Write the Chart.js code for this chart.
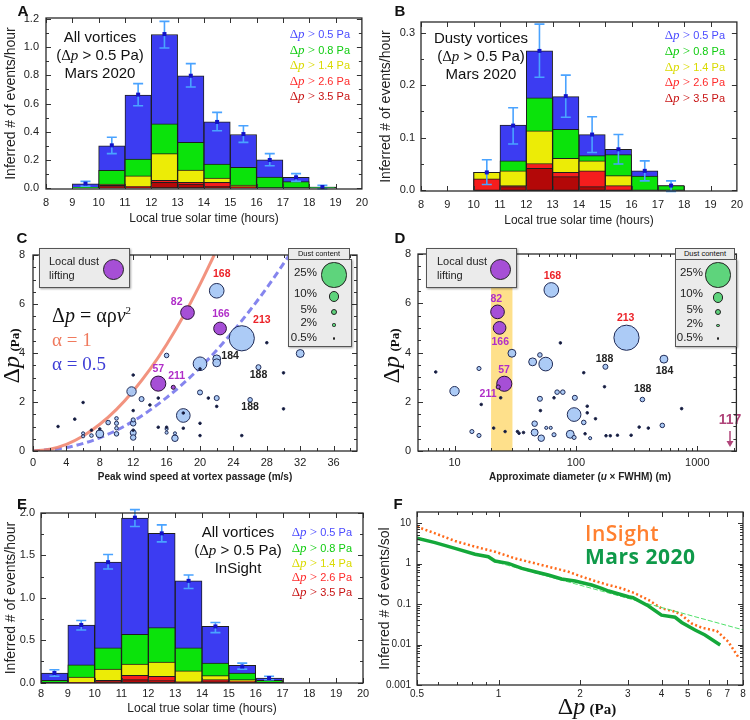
<!DOCTYPE html>
<html>
<head>
<meta charset="utf-8">
<title>Vortex statistics</title>
<script src="https://cdn.jsdelivr.net/npm/chart.js@4.4.1/dist/chart.umd.min.js"></script>
<style>
  html, body { margin: 0; padding: 0; background: #fff; }
  #fig { position: relative; width: 750px; height: 720px; overflow: hidden;
         font-family: 'Liberation Sans', Arial, sans-serif; color: #111; }
  #fig canvas { position: absolute; }
  .lbl { position: absolute; white-space: nowrap; line-height: 1; }
  .panel { font-weight: bold; font-size: 15px; }
  .note { font-size: 15px; text-align: center; line-height: 18px; color: #111; }
  .leg { font-size: 11px; }
  .dp { font-family: 'Liberation Serif', 'Times New Roman', serif; }
  .box { position: absolute; background: #ebebeb; border: 1px solid #555;
         box-shadow: 1px 1px 2px rgba(0,0,0,.35); box-sizing: border-box; }
  .circ { position: absolute; border-radius: 50%; border: 1px solid #222; box-sizing: border-box; }
</style>
</head>
<body>
<div id="fig">
  <canvas id="chartA"></canvas>
  <canvas id="chartB"></canvas>
  <canvas id="chartC"></canvas>
  <canvas id="chartD"></canvas>
  <canvas id="chartE"></canvas>
  <canvas id="chartF"></canvas>
</div>
<script>
// ---- data ----
const hourTicks = [8, 9, 10, 11, 12, 13, 14, 15, 16, 17, 18, 19, 20];
const thresholds = [0.5, 0.8, 1.4, 2.6, 3.5];

// A: all vortices, Mars 2020 (events/hour with dp above each threshold)
const aBins = [9, 10, 11, 12, 13, 14, 15, 16, 17, 18];
const aGt05 = [0.030, 0.300, 0.660, 1.090, 0.797, 0.469, 0.380, 0.200, 0.076, 0.007];
const aGt08 = [0.005, 0.125, 0.205, 0.455, 0.325, 0.170, 0.147, 0.078, 0.045, 0.007];
const aGt14 = [0, 0.028, 0.087, 0.244, 0.128, 0.071, 0.020, 0, 0, 0];
const aGt26 = [0, 0.019, 0.012, 0.054, 0.040, 0.040, 0.010, 0, 0, 0];
const aGt35 = [0, 0.010, 0.005, 0.040, 0.028, 0.012, 0.005, 0, 0, 0];
const aMean = [0.031, 0.303, 0.663, 1.093, 0.797, 0.469, 0.383, 0.199, 0.076, 0.007];
const aLow  = [0.012, 0.244, 0.584, 0.994, 0.717, 0.407, 0.324, 0.158, 0.047, -0.005];
const aHigh = [0.047, 0.360, 0.741, 1.183, 0.883, 0.537, 0.442, 0.244, 0.102, 0.019];
const aYTicks = [0, 0.2, 0.4, 0.6, 0.8, 1.0, 1.2];

// B: dusty vortices, Mars 2020
const bBins = [10, 11, 12, 13, 14, 15, 16, 17];
const bGt05 = [0.034, 0.124, 0.265, 0.178, 0.106, 0.078, 0.037, 0.009];
const bGt08 = [0.034, 0.056, 0.176, 0.116, 0.066, 0.068, 0.027, 0.009];
const bGt14 = [0.034, 0.037, 0.113, 0.061, 0.056, 0.028, 0, 0];
const bGt26 = [0.022, 0.009, 0.051, 0.034, 0.037, 0.009, 0, 0];
const bGt35 = [0, 0.007, 0.042, 0.026, 0.007, 0, 0, 0];
const bMean = [0.034, 0.123, 0.265, 0.179, 0.106, 0.078, 0.037, 0.009];
const bLow  = [0.011, 0.088, 0.215, 0.139, 0.072, 0.050, 0.018, -0.002];
const bHigh = [0.058, 0.157, 0.316, 0.219, 0.140, 0.106, 0.056, 0.018];
const bYTicks = [0, 0.1, 0.2, 0.3];

// E: all vortices, InSight
const eBins = [8, 9, 10, 11, 12, 13, 14, 15, 16];
const eGt05 = [0.114, 0.680, 1.420, 1.940, 1.760, 1.200, 0.663, 0.204, 0.055];
const eGt08 = [0.027, 0.210, 0.410, 0.570, 0.650, 0.410, 0.230, 0.114, 0.027];
const eGt14 = [0, 0.067, 0.160, 0.220, 0.243, 0.140, 0.082, 0.035, 0];
const eGt26 = [0, 0.005, 0.027, 0.086, 0.075, 0.012, 0.035, 0.020, 0];
const eGt35 = [0, 0, 0.012, 0.035, 0.024, 0, 0.020, 0, 0];
const eMean = [0.114, 0.680, 1.420, 1.945, 1.760, 1.200, 0.663, 0.190, 0.055];
const eLow  = [0.075, 0.620, 1.340, 1.840, 1.660, 1.110, 0.590, 0.160, 0.035];
const eHigh = [0.153, 0.733, 1.510, 2.040, 1.860, 1.270, 0.710, 0.230, 0.075];
const eYTicks = [0, 0.5, 1.0, 1.5, 2.0];

// C: dp vs peak wind speed; dust content in %
const cSpeed = [22.0, 25.0, 22.0, 22.0, 20.0, 32.0, 27.0, 26.0, 16.0, 11.8, 13.0, 20.0, 22.0, 18.0, 17.0,
                12.0, 12.0, 12.0, 12.0, 10.0, 10.0, 10.0, 10.0, 9.0, 8.0, 7.0, 6.0, 6.0, 16.0, 16.0, 17.0,
                3.0, 5.0, 6.0, 12.0, 12.0, 15.0, 14.0, 15.0, 16.0, 18.0, 20.0, 20.0, 22.0, 21.0, 28.0,
                30.0, 30.0, 25.0, 20.0, 12.0, 8.0, 7.0, 18.0];
const cDp    = [6.54, 4.60, 3.76, 3.60, 3.56, 3.98, 3.42, 2.09, 3.90, 2.43, 2.12, 2.39, 2.16, 1.45, 0.52,
                1.13, 1.27, 0.74, 0.55, 1.33, 1.13, 0.93, 0.70, 1.16, 0.70, 0.63, 0.72, 0.60, 0.90, 0.75, 0.72,
                1.00, 1.30, 1.98, 3.10, 1.65, 2.16, 1.88, 0.97, 0.97, 0.93, 1.13, 0.63, 1.82, 2.16, 4.42,
                3.19, 1.72, 0.63, 3.35, 0.85, 0.90, 0.85, 1.55];
const cDust  = [14, 25, 7, 7, 13, 7, 4, 3.5, 3.5, 8.5, 4, 4, 4, 13, 5.5,
                4.5, 3, 5, 4.5, 2.5, 3, 2.5, 3.5, 3.5, 7, 2.5, 2, 2, 2, 2, 2,
                0.5, 0.5, 0.5, 0.5, 0.5, 0.5, 0.5, 0.5, 0.5, 0.5, 0.5, 0.5, 0.5, 0.5, 0.5,
                0.5, 0.5, 0.5, 0.5, 0.5, 0.5, 0.5, 0.5];
const cLiftSpeed = [18.5, 22.4, 15.0, 16.8];
const cLiftDp    = [5.65, 5.00, 2.75, 2.60];
const cLiftDust  = [13, 12, 14.5, 3];
const cLabelText = ['168', '82', '166', '213', '184', '188', '188', '57', '211'];
const cLabelX    = [22.6, 17.2, 22.5, 27.4, 23.6, 27.0, 26.0, 15.0, 17.2];
const cLabelY    = [7.22, 6.06, 5.58, 5.33, 3.87, 3.08, 1.78, 3.35, 3.05];
const cLabelKind = ['red', 'purple', 'purple', 'red', 'black', 'black', 'black', 'purple', 'purple'];
const alpha1Speed  = [0, 2, 4, 6, 8, 10, 12, 14, 16, 18, 20, 21.7];
const alpha1Dp     = [0, 0.07, 0.27, 0.61, 1.09, 1.70, 2.45, 3.33, 4.35, 5.50, 6.80, 8.00];
const alpha05Speed = [0, 4, 8, 12, 16, 20, 24, 28, 30.7];
const alpha05Dp    = [0, 0.14, 0.54, 1.22, 2.18, 3.40, 4.90, 6.66, 8.00];
const cXTicks = [0, 4, 8, 12, 16, 20, 24, 28, 32, 36];
const dpTicks = [0, 2, 4, 6, 8];

// D: dp vs approximate diameter (m)
const dDiam = [62.7, 261, 531, 44, 56.4, 29.7, 175, 353, 50.5, 10, 50.5, 70, 78, 98, 96.6,
               45.7, 45.7, 51.8, 89.8, 66, 96.6, 15.9, 13.9, 15.9, 116, 515, 62, 57, 131,
               7.0, 16.6, 21, 24, 26.1, 33, 34, 37, 51, 66, 74.5, 116, 124, 124, 145, 119,
               172, 177, 192, 220, 285, 332, 395, 743];
const dDp   = [6.54, 4.60, 3.73, 3.62, 3.53, 3.97, 3.42, 2.09, 3.90, 2.43, 2.12, 2.39, 2.39, 2.16, 1.48,
               1.11, 0.75, 0.52, 0.68, 0.66, 0.55, 3.35, 0.79, 0.63, 1.16, 1.04, 0.94, 0.94, 0.52,
               3.21, 1.89, 0.93, 2.16, 0.79, 0.79, 0.72, 0.75, 1.64, 2.16, 4.39, 3.18, 1.82, 1.55, 1.31, 0.70,
               2.61, 0.62, 0.62, 0.64, 0.64, 0.97, 0.93, 1.72];
const dDust = [14, 25, 7, 7, 13, 7, 4, 3.5, 3.5, 8.5, 4, 3.5, 3.5, 4, 13,
               4.5, 6, 5.5, 7, 3, 3, 3, 3, 3, 3.5, 3.5, 2, 2, 2,
               0.5, 0.5, 0.5, 0.5, 0.5, 0.5, 0.5, 0.5, 0.5, 0.5, 0.5, 0.5, 0.5, 0.5, 0.5, 0.5,
               0.5, 0.5, 0.5, 0.5, 0.5, 0.5, 0.5, 0.5];
const dLiftDiam = [22.6, 23.5, 25.7, 22.9];
const dLiftDp   = [5.65, 5.00, 2.73, 2.60];
const dLiftDust = [13, 12, 14.5, 3];
const dLabelText = ['168', '82', '166', '57', '211', '213', '188', '184', '188'];
const dLabelX    = [64, 22.1, 23.8, 25.6, 18.9, 257, 172, 537, 355];
const dLabelY    = [7.11, 6.18, 4.41, 3.29, 2.33, 5.39, 3.75, 3.25, 2.50];
const dLabelKind = ['red', 'purple', 'purple', 'purple', 'purple', 'red', 'black', 'black', 'black'];
const liftBand = [20, 30];
const offscaleIds  = ['117'];
const offscaleDiam = [1860];
const dXTicks = [10, 100, 1000];

// F: cumulative event rate vs dp
const insightDp   = [0.5, 0.583, 0.691, 0.819, 0.97, 1.15, 1.364, 1.527, 1.81, 2.03, 2.27, 2.55, 2.85, 3.19,
                     3.58, 4.0, 4.49, 4.75, 5.17, 5.63, 6.4, 7.06, 7.67];
const insightRate = [8.1, 5.56, 3.6, 2.6, 1.96, 1.34, 1.01, 0.835, 0.628, 0.473, 0.37, 0.294, 0.244, 0.184,
                     0.126, 0.078, 0.065, 0.053, 0.033, 0.026, 0.0216, 0.0117, 0.005];
const m2020Dp     = [0.5, 0.583, 0.691, 0.819, 0.917, 0.97, 1.087, 1.22, 1.364, 1.527, 1.71, 1.917, 2.208,
                     2.405, 2.55, 3.02, 3.14, 3.58, 4.0, 4.49, 4.75, 5.32, 5.79, 6.59];
const m2020Rate   = [4.19, 3.27, 2.37, 1.69, 1.47, 1.15, 1.01, 0.76, 0.628, 0.52, 0.414, 0.37, 0.294,
                     0.244, 0.209, 0.151, 0.143, 0.089, 0.053, 0.047, 0.035, 0.0228, 0.0172, 0.0097];
const fitDp   = [1.0, 8.0];
const fitRate = [1.04, 0.023];
const fXTicks = [0.5, 1, 2, 3, 4, 5, 6, 7, 8];
const fYTicks = [0.001, 0.01, 0.1, 1, 10];

// ---- styles ----
const barColors = ['#3c3cf2', '#0be30b', '#ecec06', '#f51d1d', '#b30808'];
const legendColors = ['#4b4bff', '#10cc10', '#dada00', '#ff2b2b', '#c81414'];
const labelColors = { red: '#ec2228', purple: '#b02ec8', black: '#222' };
const DP = '<span class="dp">Δ<i>p</i></span>';

Chart.defaults.font.family = "'Liberation Sans', Arial, sans-serif";
Chart.defaults.font.size = 11;
Chart.defaults.color = '#222';
Chart.defaults.animation = false;

const fig = document.getElementById('fig');

function addText(html, x, y, cls, anchor, rotate) {
    const el = document.createElement('div');
    el.className = 'lbl ' + (cls || '');
    el.innerHTML = html;
    el.style.left = x + 'px';
    el.style.top = y + 'px';
    const tx = anchor === 'left' ? '0' : anchor === 'right' ? '-100%' : '-50%';
    el.style.transform = `translate(${tx}, -50%)` + (rotate ? ' rotate(-90deg)' : '');
    fig.appendChild(el);
    return el;
}

function addDiv(cls, x, y, w, h, bg) {
    const el = document.createElement('div');
    el.className = cls;
    Object.assign(el.style, { left: x + 'px', top: y + 'px', width: w + 'px', height: h + 'px' });
    if (bg) el.style.background = bg;
    fig.appendChild(el);
    return el;
}

function setupCanvas(id, f) {
    const cv = document.getElementById(id);
    cv.width = f.w; cv.height = f.h;
    cv.style.left = f.x + 'px';
    cv.style.top = f.y + 'px';
    return cv.getContext('2d');
}

function range(a, b, step) {
    const out = [];
    for (let v = a; v <= b + 1e-9; v += step) out.push(+v.toFixed(6));
    return out;
}

function logMinor(lo, hi) {
    const out = [];
    for (let e = -4; e <= 4; e++) for (let k = 2; k <= 9; k++) {
        const v = k * Math.pow(10, e);
        if (v > lo && v < hi) out.push(v);
    }
    return out;
}

function dustRadius(d) {
    return d <= 0.5 ? 1.3 : 0.48 * d + 0.6;
}

// scale with fixed tick list and a fixed band size so plot areas line up with the figure
function fixedScale(base, tickValues, size, isX) {
    return Object.assign({
        bounds: 'data',
        grid: { display: false, drawTicks: false },
        border: { display: false },
        afterBuildTicks: s => { s.ticks = tickValues.map(v => ({ value: v })); },
        afterFit: s => { if (isX) s.height = size; else s.width = size; }
    }, base);
}

// frame box with inward ticks on all four sides
function frameTicks(xMinor, yMinor) {
    return {
        id: 'frameTicks',
        afterDatasetsDraw(chart) {
            const { ctx, chartArea: a } = chart;
            const x = chart.scales.x, y = chart.scales.y;
            ctx.save();
            ctx.strokeStyle = '#333';
            ctx.lineWidth = 1;
            ctx.beginPath();
            const xMark = (v, len) => {
                const p = Math.round(x.getPixelForValue(v)) + 0.5;
                if (p < a.left - 0.5 || p > a.right + 0.5) return;
                ctx.moveTo(p, a.bottom); ctx.lineTo(p, a.bottom - len);
                ctx.moveTo(p, a.top); ctx.lineTo(p, a.top + len);
            };
            const yMark = (v, len) => {
                const p = Math.round(y.getPixelForValue(v)) + 0.5;
                if (p < a.top - 0.5 || p > a.bottom + 0.5) return;
                ctx.moveTo(a.left, p); ctx.lineTo(a.left + len, p);
                ctx.moveTo(a.right, p); ctx.lineTo(a.right - len, p);
            };
            x.ticks.forEach(t => xMark(t.value, 5));
            xMinor.forEach(v => xMark(v, 3));
            y.ticks.forEach(t => yMark(t.value, 5));
            yMinor.forEach(v => yMark(v, 3));
            ctx.stroke();
            ctx.lineWidth = 1.3;
            ctx.strokeStyle = '#2a2a2a';
            ctx.strokeRect(a.left, a.top, a.right - a.left, a.bottom - a.top);
            ctx.restore();
        }
    };
}

function errorBars(xs, mean, lo, hi) {
    return {
        id: 'errorBars',
        afterDatasetsDraw(chart) {
            const { ctx } = chart;
            const x = chart.scales.x, y = chart.scales.y;
            ctx.save();
            xs.forEach((xv, i) => {
                const px = x.getPixelForValue(xv);
                const pl = y.getPixelForValue(lo[i]), ph = y.getPixelForValue(hi[i]);
                ctx.strokeStyle = '#4aa3ff';
                ctx.lineWidth = 1.6;
                ctx.beginPath();
                ctx.moveTo(px, pl); ctx.lineTo(px, ph);
                ctx.moveTo(px - 5, pl); ctx.lineTo(px + 5, pl);
                ctx.moveTo(px - 5, ph); ctx.lineTo(px + 5, ph);
                ctx.stroke();
                const pm = y.getPixelForValue(mean[i]);
                ctx.fillStyle = '#1212c8';
                ctx.fillRect(px - 2, pm - 2, 4, 4);
            });
            ctx.restore();
        }
    };
}

function eventLabels(texts, xs, ys, kinds) {
    return {
        id: 'eventLabels',
        afterDatasetsDraw(chart) {
            const { ctx } = chart;
            const x = chart.scales.x, y = chart.scales.y;
            ctx.save();
            ctx.font = "bold 10.5px 'Liberation Sans', Arial, sans-serif";
            ctx.textAlign = 'center';
            ctx.textBaseline = 'middle';
            texts.forEach((t, i) => {
                ctx.fillStyle = labelColors[kinds[i]];
                ctx.fillText(t, x.getPixelForValue(xs[i]), y.getPixelForValue(ys[i]));
            });
            ctx.restore();
        }
    };
}

function histogram(id, f, bins, levels, err, yCfg) {
    const ctx = setupCanvas(id, f);
    // highest threshold first so it is drawn on top
    const datasets = levels.map((vals, k) => ({
        label: 'dp > ' + thresholds[k] + ' Pa',
        data: bins.map((b, j) => ({ x: b + 0.5, y: vals[j] })),
        backgroundColor: barColors[k],
        borderColor: '#1e1e1e',
        borderWidth: 1,
        borderSkipped: false,
        barPercentage: 1,
        categoryPercentage: 1
    })).reverse();

    return new Chart(ctx, {
        type: 'bar',
        data: { datasets: datasets },
        options: {
            responsive: false,
            devicePixelRatio: 1,
            layout: { padding: { top: f.top, right: f.w - f.right, left: 0, bottom: 0 } },
            plugins: { legend: { display: false }, tooltip: { enabled: false } },
            scales: {
                x: fixedScale({
                    type: 'linear', min: 8, max: 20, stacked: true, offset: false,
                    ticks: { padding: yCfg.xPad, autoSkip: false, maxRotation: 0 },
                    title: { display: true, text: 'Local true solar time (hours)', font: { size: 12 },
                             padding: { top: 0, bottom: yCfg.titlePad } }
                }, hourTicks, f.h - f.bottom, true),
                y: fixedScale({
                    type: 'linear', min: yCfg.min, max: yCfg.max, stacked: false,
                    ticks: { padding: yCfg.yPad, autoSkip: false, callback: v => v.toFixed(1) },
                    title: { display: true, text: 'Inferred # of events/hour', font: { size: 14 },
                             padding: { top: 3, bottom: 0 } }
                }, yCfg.ticks, f.left, false)
            }
        },
        plugins: [errorBars(bins.map(b => b + 0.5), err[0], err[1], err[2]),
                  frameTicks([], range(yCfg.min < 0 ? 0 : yCfg.min, yCfg.max, yCfg.minor))]
    });
}

function bubbleSet(xs, ys, dust, fill, edge) {
    const pts = xs.map((v, i) => ({ x: v, y: ys[i], r: dustRadius(dust[i]) }))
                  .sort((p, q) => q.r - p.r);
    return {
        type: 'bubble',
        data: pts,
        backgroundColor: c => (c.raw && c.raw.r <= 1.5) ? '#15152a' : fill,
        borderColor: edge,
        borderWidth: 1
    };
}

function scatterPanel(id, f, xCfg, sets, curves, extraPlugins) {
    const ctx = setupCanvas(id, f);
    return new Chart(ctx, {
        type: 'bubble',
        data: { datasets: sets.concat(curves) },
        options: {
            responsive: false,
            devicePixelRatio: 1,
            layout: { padding: { top: f.top, right: f.w - f.right, left: 0, bottom: 0 } },
            plugins: { legend: { display: false }, tooltip: { enabled: false } },
            scales: {
                x: fixedScale(xCfg.scale, xCfg.ticks, f.h - f.bottom, true),
                y: fixedScale({
                    type: 'linear', min: 0, max: 8,
                    ticks: { padding: xCfg.yPad, autoSkip: false }
                }, dpTicks, f.left, false)
            }
        },
        plugins: extraPlugins.concat([frameTicks(xCfg.minor, range(0, 8, 0.5))])
    });
}

// ---- panel A ----
const frameA = { x: 0, y: 0, w: 375, h: 228, left: 46, right: 366, top: 18, bottom: 189 };
histogram('chartA', frameA, aBins, [aGt05, aGt08, aGt14, aGt26, aGt35], [aMean, aLow, aHigh],
    { min: -0.007, max: 1.207, ticks: aYTicks, minor: 0.1, xPad: 7, yPad: 7, titlePad: 2 });

// ---- panel B ----
const frameB = { x: 375, y: 0, w: 375, h: 228, left: 46, right: 367, top: 22, bottom: 191 };
histogram('chartB', frameB, bBins, [bGt05, bGt08, bGt14, bGt26, bGt35], [bMean, bLow, bHigh],
    { min: -0.0013, max: 0.32, ticks: bYTicks, minor: 0.05, xPad: 7, yPad: 6, titlePad: 0 });

// ---- panel E ----
const frameE = { x: 0, y: 470, w: 375, h: 250, left: 41, right: 363, top: 43, bottom: 213 };
histogram('chartE', frameE, eBins, [eGt05, eGt08, eGt14, eGt26, eGt35], [eMean, eLow, eHigh],
    { min: -0.004, max: 2.0, ticks: eYTicks, minor: 0.25, xPad: 4, yPad: 6, titlePad: 4 });

// ---- panel C ----
const frameC = { x: 0, y: 225, w: 375, h: 262, left: 33, right: 357, top: 30, bottom: 226 };
scatterPanel('chartC', frameC, {
    scale: {
        type: 'linear', min: 0, max: 38.8,
        ticks: { padding: 5, autoSkip: false, maxRotation: 0 },
        title: { display: true, text: 'Peak wind speed at vortex passage (m/s)',
                 font: { size: 10, weight: 'bold' }, color: '#222', padding: { top: 0, bottom: 4 } }
    },
    ticks: cXTicks, minor: range(2, 38, 2), yPad: 8
}, [
    bubbleSet(cLiftSpeed, cLiftDp, cLiftDust, '#a64fd6', '#2a1238'),
    bubbleSet(cSpeed, cDp, cDust, 'rgba(168,200,246,0.95)', '#1f2a55')
], [
    { type: 'line', data: alpha1Speed.map((v, i) => ({ x: v, y: alpha1Dp[i] })),
      borderColor: 'rgba(240,128,104,0.85)', borderWidth: 3, pointRadius: 0,
      cubicInterpolationMode: 'monotone' },
    { type: 'line', data: alpha05Speed.map((v, i) => ({ x: v, y: alpha05Dp[i] })),
      borderColor: 'rgba(120,120,236,0.9)', borderWidth: 3, borderDash: [7, 4], pointRadius: 0,
      cubicInterpolationMode: 'monotone' }
], [eventLabels(cLabelText, cLabelX, cLabelY, cLabelKind)]);

// ---- panel D ----
const frameD = { x: 375, y: 225, w: 375, h: 262, left: 43, right: 369, top: 29, bottom: 226 };
scatterPanel('chartD', frameD, {
    scale: {
        type: 'logarithmic', min: 5, max: 2100,
        ticks: { padding: 5, autoSkip: false, maxRotation: 0, callback: v => String(v) }
    },
    ticks: dXTicks, minor: logMinor(5, 2100), yPad: 7
}, [
    bubbleSet(dLiftDiam, dLiftDp, dLiftDust, '#a64fd6', '#2a1238'),
    bubbleSet(dDiam, dDp, dDust, 'rgba(168,200,246,0.95)', '#1f2a55')
], [], [
    {
        id: 'liftBand',
        beforeDatasetsDraw(chart) {
            const { ctx, chartArea: a } = chart;
            const x1 = chart.scales.x.getPixelForValue(liftBand[0]);
            const x2 = chart.scales.x.getPixelForValue(liftBand[1]);
            ctx.save();
            ctx.fillStyle = 'rgba(253,214,100,0.75)';
            ctx.fillRect(x1, a.top, x2 - x1, a.bottom - a.top);
            ctx.restore();
        }
    },
    eventLabels(dLabelText, dLabelX, dLabelY, dLabelKind),
    {
        id: 'offscale',
        afterDatasetsDraw(chart) {
            const { ctx, chartArea: a } = chart;
            ctx.save();
            ctx.fillStyle = ctx.strokeStyle = '#b0457a';
            ctx.font = "bold 14px 'Liberation Sans', Arial, sans-serif";
            ctx.textAlign = 'center';
            ctx.textBaseline = 'middle';
            offscaleIds.forEach((t, i) => {
                const px = chart.scales.x.getPixelForValue(offscaleDiam[i]);
                ctx.fillText(t, px, a.bottom - 31);
                ctx.lineWidth = 1.5;
                ctx.beginPath();
                ctx.moveTo(px, a.bottom - 20); ctx.lineTo(px, a.bottom - 7);
                ctx.stroke();
                ctx.beginPath();
                ctx.moveTo(px - 3.5, a.bottom - 10); ctx.lineTo(px + 3.5, a.bottom - 10);
                ctx.lineTo(px, a.bottom - 4); ctx.closePath();
                ctx.fill();
            });
            ctx.restore();
        }
    }
]);

// ---- panel F ----
const frameF = { x: 375, y: 470, w: 375, h: 250, left: 42, right: 368, top: 42, bottom: 215 };
(function () {
    const ctx = setupCanvas('chartF', frameF);
    const f = frameF;
    new Chart(ctx, {
        type: 'line',
        data: {
            datasets: [
                { label: 'Mars 2020', data: m2020Dp.map((v, i) => ({ x: v, y: m2020Rate[i] })),
                  borderColor: '#14a83a', borderWidth: 3.5, pointRadius: 0 },
                { label: 'fit', data: fitDp.map((v, i) => ({ x: v, y: fitRate[i] })),
                  borderColor: '#4fe06a', borderWidth: 1, borderDash: [5, 2], pointRadius: 0 },
                { label: 'InSight', data: insightDp.map((v, i) => ({ x: v, y: insightRate[i] })),
                  borderColor: '#ff6a1a', borderWidth: 2.5, borderDash: [2, 2.5], pointRadius: 0 }
            ]
        },
        options: {
            responsive: false,
            devicePixelRatio: 1,
            layout: { padding: { top: f.top, right: f.w - f.right, left: 0, bottom: 0 } },
            plugins: { legend: { display: false }, tooltip: { enabled: false } },
            scales: {
                x: fixedScale({
                    type: 'logarithmic', min: 0.5, max: 8,
                    ticks: { padding: 3, autoSkip: false, maxRotation: 0, font: { size: 10 },
                             callback: v => String(v) }
                }, fXTicks, f.h - f.bottom, true),
                y: fixedScale({
                    type: 'logarithmic', min: 0.001, max: 18.7,
                    ticks: { padding: 6, autoSkip: false, font: { size: 10 }, callback: v => String(v) },
                    title: { display: true, text: 'Inferred # of events/sol', font: { size: 14 },
                             padding: { top: 2, bottom: 0 } }
                }, fYTicks, f.left, false)
            }
        },
        plugins: [frameTicks([0.6, 0.7, 0.8, 0.9], logMinor(0.001, 18.7))]
    });
})();

// ---- overlay text ----
[['A', 23, 9.5], ['B', 400, 9.5], ['C', 22, 237], ['D', 400, 237], ['E', 22, 503], ['F', 398, 503]]
    .forEach(p => addText(p[0], p[1], p[2], 'panel'));

function thresholdLegend(xRight, ys) {
    thresholds.forEach((t, i) => {
        const el = addText(`<span class="dp" style="font-size:13px">Δ<i>p</i> &gt;</span> ${t.toFixed(1)} Pa`,
                           xRight, ys[i], 'leg', 'right');
        el.style.color = legendColors[i];
    });
}
addText(`All vortices<br>(${DP} &gt; 0.5 Pa)<br>Mars 2020`, 100, 55, 'note');
thresholdLegend(350, [33, 48.5, 64, 79.5, 95]);
addText(`Dusty vortices<br>(${DP} &gt; 0.5 Pa)<br>Mars 2020`, 481, 55.5, 'note');
thresholdLegend(725, [34, 50, 65.5, 81, 96.5]);
addText(`All vortices<br>(${DP} &gt; 0.5 Pa)<br>InSight`, 238, 550, 'note');
thresholdLegend(352, [531, 546.5, 561.5, 576, 591]);

// dp axis titles
const dpTitle = (big, small) =>
    `<span class="dp" style="font-size:${big}px">Δ<i>p</i></span> <b class="dp" style="font-size:${small}px">(Pa)</b>`;
addText(dpTitle(24, 13), 11, 356, '', 'center', true);
addText(dpTitle(24, 13), 391, 356, '', 'center', true);
addText(dpTitle(24, 15), 587, 706, '', 'center');
addText('Approximate diameter (<i>u</i> × FWHM) (m)', 580, 477, '', 'center').style.cssText +=
    'font-weight:bold;font-size:10px;color:#222;';

// formula in C
addText(`<span style="font-size:20px">Δ<i>p</i> = αρ<i>v</i><sup style="font-size:11px">2</sup></span>`,
        52, 315, 'dp', 'left');
addText('α = 1', 52, 339, 'dp', 'left').style.cssText += 'font-size:19px;color:#f07a5e;';
addText('α = 0.5', 52, 363, 'dp', 'left').style.cssText += 'font-size:19px;color:#3e3ed6;';

// local dust lifting key
function liftKey(x0, textX, cx) {
    addDiv('box', x0, 248, 91, 40);
    addText('Local dust<br>lifting', textX, 268, '', 'left').style.cssText +=
        'font-size:11px;line-height:14px;color:#222;';
    const r = 10.5;
    addDiv('circ', cx - r, 269 - r, 2 * r, 2 * r, '#a64fd6');
}
liftKey(39, 49, 113);
liftKey(426, 437, 500);

// dust content key
const dustLegend = [25, 10, 5, 2, 0.5];
function dustKey(x0, w, textRight, cx, rowYs, circYs) {
    addDiv('box', x0, 259, w, 88);
    const head = addDiv('box', x0, 248, w - 2, 12);
    head.style.boxShadow = 'none';
    addText('Dust content', x0 + (w - 2) / 2, 254, '', 'center').style.cssText += 'font-size:7.5px;color:#111;';
    dustLegend.forEach((d, i) => {
        addText(d + '%', textRight, rowYs[i], '', 'right').style.cssText += 'font-size:11.5px;color:#222;';
        const r = dustRadius(d);
        addDiv('circ', cx - r, circYs[i] - r, 2 * r, 2 * r, d <= 0.5 ? '#111' : '#5ed47c');
    });
}
dustKey(288, 64, 317, 334, [273, 294, 309.5, 323, 338], [275, 296.7, 311.7, 325, 338.3]);
dustKey(675, 62, 703, 718, [273, 294, 309.5, 323.5, 338], [275, 297.3, 311.7, 325.7, 338.3]);

// F legend
addText('InSight', 585, 533, '', 'left').style.cssText +=
    "font-family:'Open Sans',sans-serif;font-size:21px;font-weight:600;color:#ff8030;letter-spacing:0.5px;";
addText('Mars 2020', 585, 556, '', 'left').style.cssText +=
    "font-family:'Open Sans',sans-serif;font-size:21px;font-weight:bold;color:#0f9a4a;letter-spacing:0.5px;";
</script>
</body>
</html>
